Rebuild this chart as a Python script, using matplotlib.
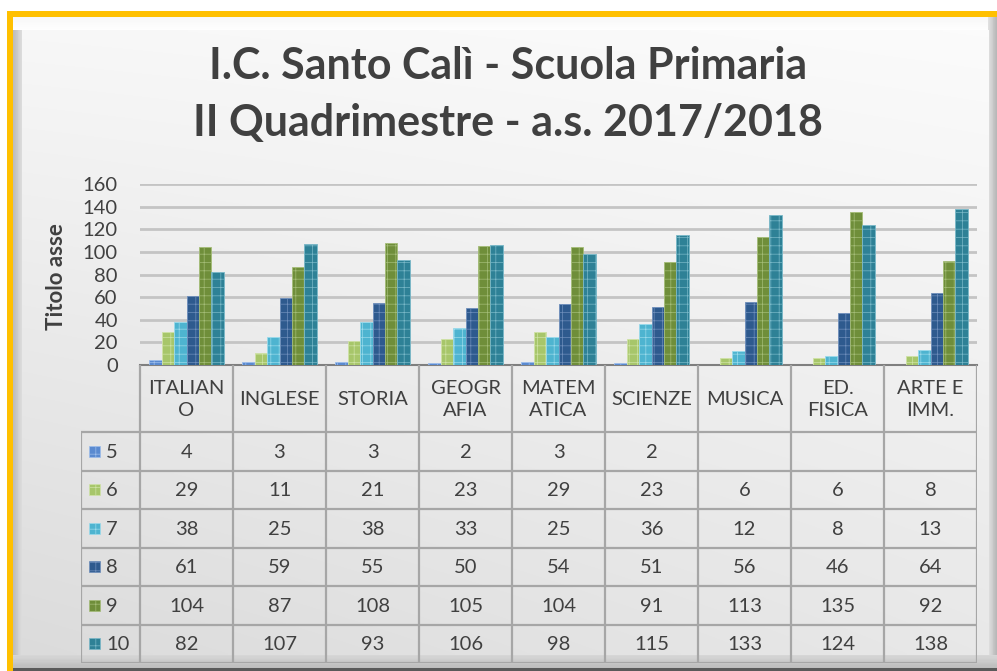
import numpy as np
import matplotlib
matplotlib.use("Agg")
import matplotlib.pyplot as plt
from matplotlib.patches import Rectangle

plt.rcParams['font.family'] = ['Lato', 'DejaVu Sans']
plt.rcParams['hatch.linewidth'] = 0.5

# ---------------- data ----------------
categories = ["ITALIAN\nO", "INGLESE", "STORIA", "GEOGR\nAFIA", "MATEM\nATICA",
              "SCIENZE", "MUSICA", "ED.\nFISICA", "ARTE E\nIMM."]
series_names = ["5", "6", "7", "8", "9", "10"]
v5 = [4, 3, 3, 2, 3, 2, None, None, None]
v6 = [29, 11, 21, 23, 29, 23, 6, 6, 8]
v7 = [38, 25, 38, 33, 25, 36, 12, 8, 13]
v8 = [61, 59, 55, 50, 54, 51, 56, 46, 64]
v9 = [104, 87, 108, 105, 104, 91, 113, 135, 92]
v10 = [82, 107, 93, 106, 98, 115, 133, 124, 138]
series = [v5, v6, v7, v8, v9, v10]
colors = ["#5A8AD0", "#A7C66A", "#4EB4D0", "#2E5A8E", "#6F8E3A", "#2E8196"]
edge_colors = ["#9DBDEB", "#CFE2A6", "#9ADAEB", "#6E8EBB", "#A4BC77", "#79B8C8"]
title_lines = ["I.C. Santo Calì - Scuola Primaria", "II Quadrimestre - a.s. 2017/2018"]
yticks = [0, 20, 40, 60, 80, 100, 120, 140, 160]
ylabel = "Titolo asse"

TXT = "#404040"
W, H = 997, 671
fig = plt.figure(figsize=(W / 100, H / 100), dpi=100)

def fx(px):
    return px / W

def fy(py):
    return 1 - py / H

# ---------------- background (drawn in figure pixel coordinates) ----------------
def frect(x0, y0, w, h, color, z=-10):
    fig.patches.append(Rectangle((fx(x0), fy(y0 + h)), w / W, h / H, facecolor=color,
                                 edgecolor="none", transform=fig.transFigure,
                                 figure=fig, zorder=z))

frect(7, 11, W - 7, 6, "#FFC000")          # yellow top
frect(7, 11, 6, H - 11, "#FFC000")         # yellow left

def strips(x0, x1, y0, y1, c0, c1, horizontal=True, n=10):
    for k in range(n):
        t = k / max(n - 1, 1)
        g = c0 + (c1 - c0) * t
        if horizontal:
            a = x0 + (x1 - x0) * k / n
            frect(a, y0, (x1 - x0) / n + 0.4, y1 - y0, (g, g, g))
        else:
            a = y0 + (y1 - y0) * k / n
            frect(x0, a, x1 - x0, (y1 - y0) / n + 0.4, (g, g, g))

strips(13, 22, 17, H, 0.74, 0.86, horizontal=True)      # left bevel
strips(13, W, 17, 30, 0.97, 0.995, horizontal=False)    # top bevel
strips(988, W, 17, H, 0.88, 0.72, horizontal=True)      # right bevel
strips(13, W, 655, 668, 0.84, 0.74, horizontal=False)   # bottom bevel
frect(13, 668, W - 13, 3, "#5A5A5A")

# inner panel gradient
bg = fig.add_axes([fx(22), fy(655), fx(988 - 22), (655 - 30) / H], zorder=-5)
bg.axis("off")
xs = np.linspace(0, 1, 200)
ys = np.linspace(0, 1, 200)
X, Y = np.meshgrid(xs, ys)
V = 0.985 - 0.075 * Y - 0.05 * (1 - X) * (0.3 + 0.7 * Y)
V = np.clip(V, 0, 1)
bg.imshow(np.dstack([V, V, V]), extent=(0, 1, 1, 0), aspect="auto", interpolation="bilinear")
bg.set_xlim(0, 1)
bg.set_ylim(1, 0)

# ---------------- title ----------------
for line, yb in zip(title_lines, [79, 136]):
    fig.text(fx(508), fy(yb), line, ha="center", va="baseline", fontsize=31,
             fontweight="bold", color=TXT)

# ---------------- bar chart ----------------
n = len(categories)
ax = fig.add_axes([fx(140), fy(365), fx(977 - 140), (365 - 184) / H])
ax.set_facecolor("none")
x = np.arange(n)
bw = 0.134
for k, (vals, c, ec) in enumerate(zip(series, colors, edge_colors)):
    h = [np.nan if v is None else v for v in vals]
    pos = x + (k - 2.5) * bw
    ax.bar(pos, h, width=bw, color=c, edgecolor=ec, linewidth=0.6, hatch="++",
           zorder=3, label=series_names[k])
ax.set_xlim(-0.5, n - 0.5)
ax.set_ylim(0, 160)
ax.set_yticks(yticks)
ax.set_xticks([])
for s in ["top", "right", "left"]:
    ax.spines[s].set_visible(False)
ax.spines["bottom"].set_color("#7F7F7F")
ax.spines["bottom"].set_linewidth(1.5)
ax.tick_params(axis="y", length=0, labelsize=14.5, labelcolor=TXT, pad=16)
ax.grid(axis="y", color="#C4C4C4", linewidth=2.0, zorder=0)
ax.set_axisbelow(True)
ax.set_ylabel(ylabel, fontsize=16, fontweight="bold", color=TXT)
ax.yaxis.set_label_coords(-(140 - 67) / (977 - 140), 0.49)

# ---------------- data table ----------------
legw = (140 - 81) / 93.0
hdr_h = 67.0
row_h = (663 - 432) / 6.0
tot_h = hdr_h + 6 * row_h
tax = fig.add_axes([fx(81), fy(663), fx(977 - 81), (663 - 365) / H])
tax.set_xlim(-0.5 - legw, n - 0.5)
tax.set_ylim(tot_h, 0)
tax.axis("off")
GC = "#A6A6A6"
LW = 1.6
for i in range(n + 1):
    tax.plot([i - 0.5, i - 0.5], [0, tot_h], color=GC, lw=LW, solid_capstyle="butt")
tax.plot([-0.5 - legw, -0.5 - legw], [hdr_h, tot_h], color=GC, lw=LW, solid_capstyle="butt")
for r in range(7):
    yy = hdr_h + r * row_h
    tax.plot([-0.5 - legw, n - 0.5], [yy, yy], color=GC, lw=LW, solid_capstyle="butt")
for i, lab in enumerate(categories):
    tax.text(i, hdr_h / 2 + 1, lab, ha="center", va="center", fontsize=14.5,
             color=TXT, linespacing=1.3)
for r, (name, vals, c, ec) in enumerate(zip(series_names, series, colors, edge_colors)):
    yc = hdr_h + (r + 0.5) * row_h
    sw = 11 / 93.0
    tax.add_patch(Rectangle((-0.5 - legw + 8 / 93.0, yc - 5.5), sw, 11,
                            facecolor=c, edgecolor=ec, lw=0.5, hatch="++"))
    tax.text(-0.5 - legw + 25 / 93.0, yc + 1, name, ha="left", va="center",
             fontsize=14.5, color=TXT)
    for i, v in enumerate(vals):
        if v is not None:
            tax.text(i, yc + 1, str(v), ha="center", va="center", fontsize=14.5, color=TXT)

fig.savefig("out.png", dpi=100)
